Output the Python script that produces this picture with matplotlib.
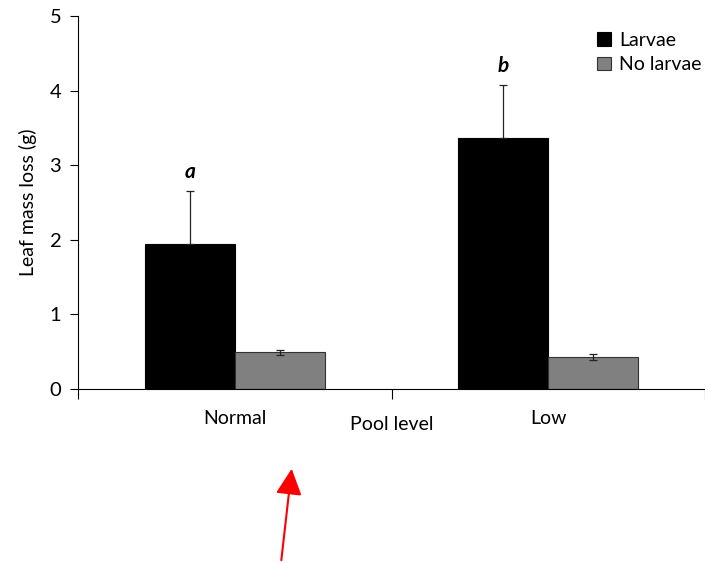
import numpy as np
import matplotlib.pyplot as plt

# data
pool_levels = ["Normal", "Low"]
larvae_mean = [1.94, 3.36]
larvae_err = [0.71, 0.72]
no_larvae_mean = [0.49, 0.43]
no_larvae_err = [0.03, 0.035]
sig_letters = ["a", "b"]

plt.rcParams["font.family"] = ["Lato", "DejaVu Sans"]

fig = plt.figure(figsize=(7.05, 5.63), dpi=100)
ax = fig.add_axes([78 / 705, 174 / 563, 627 / 705, 373 / 563])

x = np.arange(len(pool_levels))
width = 0.287

err_kw = dict(ecolor="#222222", elinewidth=0.9, capsize=2.6, capthick=0.9)
ax.bar(x - width / 2, larvae_mean, width, color="black",
       edgecolor="black", linewidth=0.8, label="Larvae")
# only the upper half shows above the black bar
ax.errorbar(x - width / 2, larvae_mean, yerr=[np.zeros(len(x)), larvae_err],
            fmt="none", **err_kw)
ax.bar(x + width / 2, no_larvae_mean, width, yerr=no_larvae_err, color="#808080",
       edgecolor="#333333", linewidth=0.8, label="No larvae", error_kw=err_kw)

for xi, m, e, letter in zip(x, larvae_mean, larvae_err, sig_letters):
    ax.text(xi - width / 2, m + e + 0.12, letter, ha="center", va="bottom",
            fontsize=15, fontweight="bold", fontstyle="italic")

ax.set_xlim(-0.5, 1.5)
ax.set_ylim(0, 5)
ax.set_yticks(range(6))
ax.tick_params(axis="y", labelsize=14.5, length=6, width=0.8, pad=6)

# category boundary ticks, labels at centres
ax.set_xticks([-0.5, 0.5, 1.5])
ax.set_xticklabels([])
ax.tick_params(axis="x", length=7, width=0.8)
ax.set_xticks(x, minor=True)
ax.set_xticklabels(pool_levels, minor=True)
ax.tick_params(axis="x", which="minor", length=0, labelsize=14, pad=15)

ax.spines["top"].set_visible(False)
ax.spines["right"].set_visible(False)
for s in ["left", "bottom"]:
    ax.spines[s].set_linewidth(0.8)

ax.set_ylabel("Leaf mass loss (g)", fontsize=14, labelpad=9)
fig.text(392 / 705, 1 - 425 / 563, "Pool level", ha="center", va="center", fontsize=14)

ax.legend(loc="upper right", frameon=False, fontsize=14, handlelength=0.7,
          handleheight=0.7, handletextpad=0.4, labelspacing=0.4,
          bbox_to_anchor=(1.022, 1.005))

# red arrow pointing up at the x axis labels
fig.patches.append(plt.matplotlib.patches.FancyArrowPatch(
    (281 / 705, 0.0), (292 / 705, 1 - 466 / 563), transform=fig.transFigure,
    arrowstyle="-|>,head_length=10,head_width=5", color="red", linewidth=1.5,
    mutation_scale=1.6))

fig.savefig("out.png", dpi=100)
